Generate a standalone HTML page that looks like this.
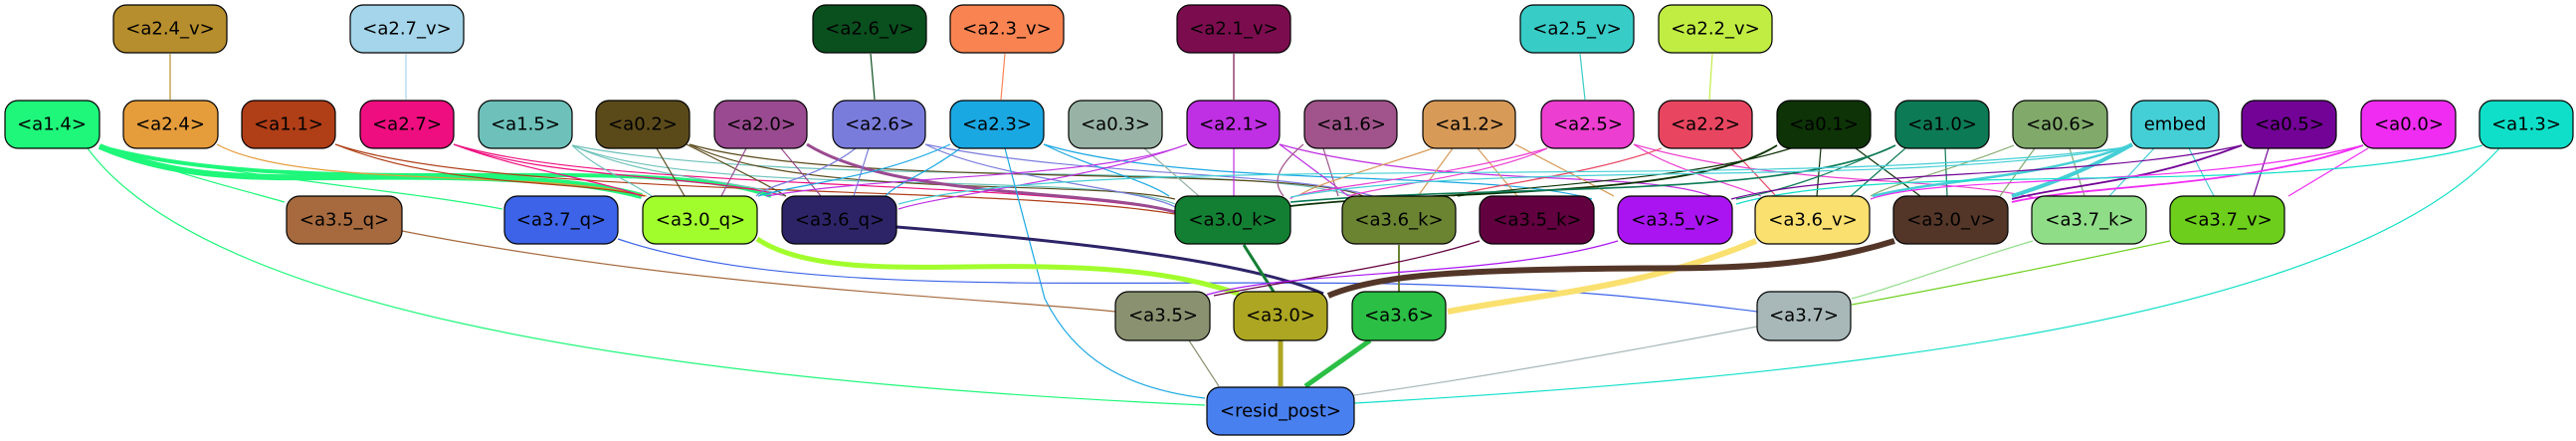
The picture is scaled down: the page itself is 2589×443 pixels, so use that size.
<!DOCTYPE html>
<html><head><meta charset="utf-8"><style>
html,body{margin:0;padding:0;background:#fff}
svg{display:block}
text{font-family:"DejaVu Sans","Liberation Sans",sans-serif;font-size:18px;text-anchor:middle;dominant-baseline:central;fill:#000}
.n{stroke:#000;stroke-width:1.2}
path{fill:none}
marker path{stroke:none}
path[stroke="#b78e2d"]{marker-end:url(#kb78e2d)}
path[stroke="#a4d5ea"]{marker-end:url(#ka4d5ea)}
path[stroke="#0a4f1e"]{marker-end:url(#k0a4f1e)}
path[stroke="#f98452"]{marker-end:url(#kf98452)}
path[stroke="#7b0d4f"]{marker-end:url(#k7b0d4f)}
path[stroke="#38ccc7"]{marker-end:url(#k38ccc7)}
path[stroke="#c1ed43"]{marker-end:url(#kc1ed43)}
path[stroke="#1ef77a"]{marker-end:url(#k1ef77a)}
path[stroke="#e59c3a"]{marker-end:url(#ke59c3a)}
path[stroke="#b03e17"]{marker-end:url(#kb03e17)}
path[stroke="#ef0e7f"]{marker-end:url(#kef0e7f)}
path[stroke="#6dc1ba"]{marker-end:url(#k6dc1ba)}
path[stroke="#5a4a1a"]{marker-end:url(#k5a4a1a)}
path[stroke="#9a4a90"]{marker-end:url(#k9a4a90)}
path[stroke="#7a7cdc"]{marker-end:url(#k7a7cdc)}
path[stroke="#1aa8e3"]{marker-end:url(#k1aa8e3)}
path[stroke="#98b3a5"]{marker-end:url(#k98b3a5)}
path[stroke="#bf2fe3"]{marker-end:url(#kbf2fe3)}
path[stroke="#a0548b"]{marker-end:url(#ka0548b)}
path[stroke="#d79a57"]{marker-end:url(#kd79a57)}
path[stroke="#ec3ed0"]{marker-end:url(#kec3ed0)}
path[stroke="#e84560"]{marker-end:url(#ke84560)}
path[stroke="#0d3306"]{marker-end:url(#k0d3306)}
path[stroke="#0c7a55"]{marker-end:url(#k0c7a55)}
path[stroke="#80a96a"]{marker-end:url(#k80a96a)}
path[stroke="#44cfd6"]{marker-end:url(#k44cfd6)}
path[stroke="#720396"]{marker-end:url(#k720396)}
path[stroke="#f02cf3"]{marker-end:url(#kf02cf3)}
path[stroke="#0fdfc8"]{marker-end:url(#k0fdfc8)}
path[stroke="#a66a3e"]{marker-end:url(#ka66a3e)}
path[stroke="#3c63e8"]{marker-end:url(#k3c63e8)}
path[stroke="#a2fd2d"]{marker-end:url(#ka2fd2d)}
path[stroke="#2d2468"]{marker-end:url(#k2d2468)}
path[stroke="#137f33"]{marker-end:url(#k137f33)}
path[stroke="#6a8432"]{marker-end:url(#k6a8432)}
path[stroke="#620040"]{marker-end:url(#k620040)}
path[stroke="#aa14f1"]{marker-end:url(#kaa14f1)}
path[stroke="#fae06f"]{marker-end:url(#kfae06f)}
path[stroke="#533628"]{marker-end:url(#k533628)}
path[stroke="#90dd87"]{marker-end:url(#k90dd87)}
path[stroke="#6dcf1c"]{marker-end:url(#k6dcf1c)}
path[stroke="#8a9170"]{marker-end:url(#k8a9170)}
path[stroke="#aca622"]{marker-end:url(#kaca622)}
path[stroke="#2bbf45"]{marker-end:url(#k2bbf45)}
path[stroke="#a8b8b8"]{marker-end:url(#ka8b8b8)}
</style></head><body>
<svg width="2589" height="443" viewBox="0 0 2589 443" xmlns="http://www.w3.org/2000/svg">
<defs>
<marker id="kb78e2d" viewBox="0 0 10 10" refX="9" refY="5" markerWidth="12" markerHeight="12" markerUnits="userSpaceOnUse" orient="auto"><path d="M0,0L10,5L0,10z" fill="#b78e2d"/></marker>
<marker id="ka4d5ea" viewBox="0 0 10 10" refX="9" refY="5" markerWidth="12" markerHeight="12" markerUnits="userSpaceOnUse" orient="auto"><path d="M0,0L10,5L0,10z" fill="#a4d5ea"/></marker>
<marker id="k0a4f1e" viewBox="0 0 10 10" refX="9" refY="5" markerWidth="12" markerHeight="12" markerUnits="userSpaceOnUse" orient="auto"><path d="M0,0L10,5L0,10z" fill="#0a4f1e"/></marker>
<marker id="kf98452" viewBox="0 0 10 10" refX="9" refY="5" markerWidth="12" markerHeight="12" markerUnits="userSpaceOnUse" orient="auto"><path d="M0,0L10,5L0,10z" fill="#f98452"/></marker>
<marker id="k7b0d4f" viewBox="0 0 10 10" refX="9" refY="5" markerWidth="12" markerHeight="12" markerUnits="userSpaceOnUse" orient="auto"><path d="M0,0L10,5L0,10z" fill="#7b0d4f"/></marker>
<marker id="k38ccc7" viewBox="0 0 10 10" refX="9" refY="5" markerWidth="12" markerHeight="12" markerUnits="userSpaceOnUse" orient="auto"><path d="M0,0L10,5L0,10z" fill="#38ccc7"/></marker>
<marker id="kc1ed43" viewBox="0 0 10 10" refX="9" refY="5" markerWidth="12" markerHeight="12" markerUnits="userSpaceOnUse" orient="auto"><path d="M0,0L10,5L0,10z" fill="#c1ed43"/></marker>
<marker id="k1ef77a" viewBox="0 0 10 10" refX="9" refY="5" markerWidth="13" markerHeight="13" markerUnits="userSpaceOnUse" orient="auto"><path d="M0,0L10,5L0,10z" fill="#1ef77a"/></marker>
<marker id="ke59c3a" viewBox="0 0 10 10" refX="9" refY="5" markerWidth="12" markerHeight="12" markerUnits="userSpaceOnUse" orient="auto"><path d="M0,0L10,5L0,10z" fill="#e59c3a"/></marker>
<marker id="kb03e17" viewBox="0 0 10 10" refX="9" refY="5" markerWidth="12" markerHeight="12" markerUnits="userSpaceOnUse" orient="auto"><path d="M0,0L10,5L0,10z" fill="#b03e17"/></marker>
<marker id="kef0e7f" viewBox="0 0 10 10" refX="9" refY="5" markerWidth="12" markerHeight="12" markerUnits="userSpaceOnUse" orient="auto"><path d="M0,0L10,5L0,10z" fill="#ef0e7f"/></marker>
<marker id="k6dc1ba" viewBox="0 0 10 10" refX="9" refY="5" markerWidth="12" markerHeight="12" markerUnits="userSpaceOnUse" orient="auto"><path d="M0,0L10,5L0,10z" fill="#6dc1ba"/></marker>
<marker id="k5a4a1a" viewBox="0 0 10 10" refX="9" refY="5" markerWidth="12" markerHeight="12" markerUnits="userSpaceOnUse" orient="auto"><path d="M0,0L10,5L0,10z" fill="#5a4a1a"/></marker>
<marker id="k9a4a90" viewBox="0 0 10 10" refX="9" refY="5" markerWidth="12" markerHeight="12" markerUnits="userSpaceOnUse" orient="auto"><path d="M0,0L10,5L0,10z" fill="#9a4a90"/></marker>
<marker id="k7a7cdc" viewBox="0 0 10 10" refX="9" refY="5" markerWidth="12" markerHeight="12" markerUnits="userSpaceOnUse" orient="auto"><path d="M0,0L10,5L0,10z" fill="#7a7cdc"/></marker>
<marker id="k1aa8e3" viewBox="0 0 10 10" refX="9" refY="5" markerWidth="12" markerHeight="12" markerUnits="userSpaceOnUse" orient="auto"><path d="M0,0L10,5L0,10z" fill="#1aa8e3"/></marker>
<marker id="k98b3a5" viewBox="0 0 10 10" refX="9" refY="5" markerWidth="12" markerHeight="12" markerUnits="userSpaceOnUse" orient="auto"><path d="M0,0L10,5L0,10z" fill="#98b3a5"/></marker>
<marker id="kbf2fe3" viewBox="0 0 10 10" refX="9" refY="5" markerWidth="12" markerHeight="12" markerUnits="userSpaceOnUse" orient="auto"><path d="M0,0L10,5L0,10z" fill="#bf2fe3"/></marker>
<marker id="ka0548b" viewBox="0 0 10 10" refX="9" refY="5" markerWidth="12" markerHeight="12" markerUnits="userSpaceOnUse" orient="auto"><path d="M0,0L10,5L0,10z" fill="#a0548b"/></marker>
<marker id="kd79a57" viewBox="0 0 10 10" refX="9" refY="5" markerWidth="12" markerHeight="12" markerUnits="userSpaceOnUse" orient="auto"><path d="M0,0L10,5L0,10z" fill="#d79a57"/></marker>
<marker id="kec3ed0" viewBox="0 0 10 10" refX="9" refY="5" markerWidth="12" markerHeight="12" markerUnits="userSpaceOnUse" orient="auto"><path d="M0,0L10,5L0,10z" fill="#ec3ed0"/></marker>
<marker id="ke84560" viewBox="0 0 10 10" refX="9" refY="5" markerWidth="12" markerHeight="12" markerUnits="userSpaceOnUse" orient="auto"><path d="M0,0L10,5L0,10z" fill="#e84560"/></marker>
<marker id="k0d3306" viewBox="0 0 10 10" refX="9" refY="5" markerWidth="12" markerHeight="12" markerUnits="userSpaceOnUse" orient="auto"><path d="M0,0L10,5L0,10z" fill="#0d3306"/></marker>
<marker id="k0c7a55" viewBox="0 0 10 10" refX="9" refY="5" markerWidth="12" markerHeight="12" markerUnits="userSpaceOnUse" orient="auto"><path d="M0,0L10,5L0,10z" fill="#0c7a55"/></marker>
<marker id="k80a96a" viewBox="0 0 10 10" refX="9" refY="5" markerWidth="12" markerHeight="12" markerUnits="userSpaceOnUse" orient="auto"><path d="M0,0L10,5L0,10z" fill="#80a96a"/></marker>
<marker id="k44cfd6" viewBox="0 0 10 10" refX="9" refY="5" markerWidth="13" markerHeight="13" markerUnits="userSpaceOnUse" orient="auto"><path d="M0,0L10,5L0,10z" fill="#44cfd6"/></marker>
<marker id="k720396" viewBox="0 0 10 10" refX="9" refY="5" markerWidth="12" markerHeight="12" markerUnits="userSpaceOnUse" orient="auto"><path d="M0,0L10,5L0,10z" fill="#720396"/></marker>
<marker id="kf02cf3" viewBox="0 0 10 10" refX="9" refY="5" markerWidth="12" markerHeight="12" markerUnits="userSpaceOnUse" orient="auto"><path d="M0,0L10,5L0,10z" fill="#f02cf3"/></marker>
<marker id="k0fdfc8" viewBox="0 0 10 10" refX="9" refY="5" markerWidth="12" markerHeight="12" markerUnits="userSpaceOnUse" orient="auto"><path d="M0,0L10,5L0,10z" fill="#0fdfc8"/></marker>
<marker id="ka66a3e" viewBox="0 0 10 10" refX="9" refY="5" markerWidth="12" markerHeight="12" markerUnits="userSpaceOnUse" orient="auto"><path d="M0,0L10,5L0,10z" fill="#a66a3e"/></marker>
<marker id="k3c63e8" viewBox="0 0 10 10" refX="9" refY="5" markerWidth="12" markerHeight="12" markerUnits="userSpaceOnUse" orient="auto"><path d="M0,0L10,5L0,10z" fill="#3c63e8"/></marker>
<marker id="ka2fd2d" viewBox="0 0 10 10" refX="9" refY="5" markerWidth="14" markerHeight="14" markerUnits="userSpaceOnUse" orient="auto"><path d="M0,0L10,5L0,10z" fill="#a2fd2d"/></marker>
<marker id="k2d2468" viewBox="0 0 10 10" refX="9" refY="5" markerWidth="13" markerHeight="13" markerUnits="userSpaceOnUse" orient="auto"><path d="M0,0L10,5L0,10z" fill="#2d2468"/></marker>
<marker id="k137f33" viewBox="0 0 10 10" refX="9" refY="5" markerWidth="13" markerHeight="13" markerUnits="userSpaceOnUse" orient="auto"><path d="M0,0L10,5L0,10z" fill="#137f33"/></marker>
<marker id="k6a8432" viewBox="0 0 10 10" refX="9" refY="5" markerWidth="12" markerHeight="12" markerUnits="userSpaceOnUse" orient="auto"><path d="M0,0L10,5L0,10z" fill="#6a8432"/></marker>
<marker id="k620040" viewBox="0 0 10 10" refX="9" refY="5" markerWidth="12" markerHeight="12" markerUnits="userSpaceOnUse" orient="auto"><path d="M0,0L10,5L0,10z" fill="#620040"/></marker>
<marker id="kaa14f1" viewBox="0 0 10 10" refX="9" refY="5" markerWidth="12" markerHeight="12" markerUnits="userSpaceOnUse" orient="auto"><path d="M0,0L10,5L0,10z" fill="#aa14f1"/></marker>
<marker id="kfae06f" viewBox="0 0 10 10" refX="9" refY="5" markerWidth="16" markerHeight="16" markerUnits="userSpaceOnUse" orient="auto"><path d="M0,0L10,5L0,10z" fill="#fae06f"/></marker>
<marker id="k533628" viewBox="0 0 10 10" refX="9" refY="5" markerWidth="16" markerHeight="16" markerUnits="userSpaceOnUse" orient="auto"><path d="M0,0L10,5L0,10z" fill="#533628"/></marker>
<marker id="k90dd87" viewBox="0 0 10 10" refX="9" refY="5" markerWidth="12" markerHeight="12" markerUnits="userSpaceOnUse" orient="auto"><path d="M0,0L10,5L0,10z" fill="#90dd87"/></marker>
<marker id="k6dcf1c" viewBox="0 0 10 10" refX="9" refY="5" markerWidth="12" markerHeight="12" markerUnits="userSpaceOnUse" orient="auto"><path d="M0,0L10,5L0,10z" fill="#6dcf1c"/></marker>
<marker id="k8a9170" viewBox="0 0 10 10" refX="9" refY="5" markerWidth="12" markerHeight="12" markerUnits="userSpaceOnUse" orient="auto"><path d="M0,0L10,5L0,10z" fill="#8a9170"/></marker>
<marker id="kaca622" viewBox="0 0 10 10" refX="9" refY="5" markerWidth="15" markerHeight="15" markerUnits="userSpaceOnUse" orient="auto"><path d="M0,0L10,5L0,10z" fill="#aca622"/></marker>
<marker id="k2bbf45" viewBox="0 0 10 10" refX="9" refY="5" markerWidth="15" markerHeight="15" markerUnits="userSpaceOnUse" orient="auto"><path d="M0,0L10,5L0,10z" fill="#2bbf45"/></marker>
<marker id="ka8b8b8" viewBox="0 0 10 10" refX="9" refY="5" markerWidth="12" markerHeight="12" markerUnits="userSpaceOnUse" orient="auto"><path d="M0,0L10,5L0,10z" fill="#a8b8b8"/></marker>
</defs>
<g stroke-width="1.2">
<path stroke="#b78e2d" d="M171,54 L171,100"/>
<path stroke="#a4d5ea" d="M408,54 L408,100"/>
<path stroke="#0a4f1e" d="M875,54 L879,100"/>
<path stroke="#f98452" d="M1010,54 L1006,100"/>
<path stroke="#7b0d4f" d="M1240,54 L1240,100"/>
<path stroke="#38ccc7" d="M1588,54 L1593,100"/>
<path stroke="#c1ed43" d="M1721,54 L1718,100"/>
<path stroke="#1ef77a" stroke-width="6" d="M100,147 C200,190 300,175 450,178 C550,180 600,185 645,197"/>
<path stroke="#1ef77a" stroke-width="4" d="M100,147 C250,190 500,170 650,178 C720,182 750,188 775,197"/>
<path stroke="#1ef77a" d="M100,147 C180,175 240,190 286,203"/>
<path stroke="#1ef77a" d="M100,147 C250,180 400,190 505,210"/>
<path stroke="#1ef77a" d="M88,149 C200,300 600,380 1211,407"/>
<path stroke="#e59c3a" d="M218,145 C300,190 550,170 650,197"/>
<path stroke="#b03e17" d="M337,145 C450,190 580,180 648,197"/>
<path stroke="#b03e17" d="M337,145 C500,200 1000,185 1181,215"/>
<path stroke="#ef0e7f" d="M456,145 C520,170 600,180 645,197"/>
<path stroke="#ef0e7f" d="M456,145 C550,180 700,175 790,197"/>
<path stroke="#ef0e7f" d="M456,145 C600,190 1000,180 1181,212"/>
<path stroke="#6dc1ba" d="M575,146 C600,170 630,180 655,197"/>
<path stroke="#6dc1ba" d="M575,146 C650,180 740,180 790,197"/>
<path stroke="#6dc1ba" d="M575,146 C700,200 1100,170 1181,205"/>
<path stroke="#6dc1ba" d="M575,146 C800,190 1250,160 1360,197"/>
<path stroke="#5a4a1a" d="M660,149 L688,197"/>
<path stroke="#5a4a1a" d="M690,145 C740,170 770,185 790,197"/>
<path stroke="#5a4a1a" d="M693,145 C800,200 1100,180 1181,200"/>
<path stroke="#5a4a1a" d="M693,145 C850,190 1300,165 1370,197"/>
<path stroke="#9a4a90" d="M750,149 L725,197"/>
<path stroke="#9a4a90" d="M785,149 L825,197"/>
<path stroke="#9a4a90" stroke-width="3" d="M811,145 C900,200 1100,190 1181,213"/>
<path stroke="#7a7cdc" d="M860,149 C820,180 770,185 760,197"/>
<path stroke="#7a7cdc" d="M873,149 L858,197"/>
<path stroke="#7a7cdc" d="M930,145 C1000,180 1150,190 1181,208"/>
<path stroke="#7a7cdc" d="M930,145 C1100,180 1300,170 1390,200"/>
<path stroke="#1aa8e3" d="M955,145 C880,180 800,185 762,197"/>
<path stroke="#1aa8e3" d="M965,149 C930,175 900,185 890,197"/>
<path stroke="#1aa8e3" d="M1010,149 L1050,300 C1080,360 1130,390 1211,400"/>
<path stroke="#1aa8e3" d="M1049,145 C1100,170 1150,180 1175,197"/>
<path stroke="#1aa8e3" d="M1049,145 C1200,190 1500,170 1600,200"/>
<path stroke="#98b3a5" d="M1150,149 L1205,197"/>
<path stroke="#bf2fe3" d="M1240,149 L1240,197"/>
<path stroke="#bf2fe3" d="M1193,145 C1100,180 950,195 903,210"/>
<path stroke="#bf2fe3" d="M1193,145 C1100,180 900,175 770,197"/>
<path stroke="#bf2fe3" d="M1286,145 C1320,170 1340,185 1355,197"/>
<path stroke="#bf2fe3" d="M1286,145 C1450,190 1650,170 1720,197"/>
<path stroke="#a0548b" d="M1330,149 L1345,197"/>
<path stroke="#a0548b" d="M1310,145 C1280,170 1280,185 1290,197"/>
<path stroke="#d79a57" d="M1440,149 C1380,170 1320,185 1305,197"/>
<path stroke="#d79a57" d="M1460,149 L1425,197"/>
<path stroke="#d79a57" d="M1485,149 L1525,197"/>
<path stroke="#d79a57" d="M1523,145 C1570,170 1600,185 1622,197"/>
<path stroke="#ec3ed0" d="M1555,149 C1500,175 1400,185 1355,197"/>
<path stroke="#ec3ed0" d="M1555,149 C1450,180 1300,190 1297,200"/>
<path stroke="#ec3ed0" d="M1642,145 C1680,170 1740,185 1770,197"/>
<path stroke="#ec3ed0" d="M1642,145 C1800,190 1950,175 2050,200"/>
<path stroke="#e84560" d="M1670,149 C1600,175 1500,185 1460,197"/>
<path stroke="#e84560" d="M1740,149 L1785,197"/>
<path stroke="#0d3306" stroke-width="1.8" d="M1786,146 C1700,200 1450,190 1297,207"/>
<path stroke="#0d3306" d="M1800,149 C1700,180 1550,185 1465,197"/>
<path stroke="#0d3306" d="M1830,149 L1826,197"/>
<path stroke="#0d3306" d="M1865,149 L1930,197"/>
<path stroke="#0c7a55" stroke-width="1.6" d="M1905,146 C1800,200 1500,185 1297,203"/>
<path stroke="#0c7a55" d="M1915,149 L1860,197"/>
<path stroke="#0c7a55" d="M1955,149 L1957,197"/>
<path stroke="#0c7a55" d="M1905,146 C1850,170 1800,190 1745,200"/>
<path stroke="#80a96a" d="M2024,146 C1950,175 1900,185 1880,197"/>
<path stroke="#80a96a" d="M2045,149 L2010,197"/>
<path stroke="#80a96a" d="M2080,149 L2095,197"/>
<path stroke="#44cfd6" stroke-width="4" d="M2143,145 C2100,170 2060,185 2022,197"/>
<path stroke="#44cfd6" stroke-width="2.5" d="M2143,145 C2050,180 1950,180 1882,197"/>
<path stroke="#44cfd6" d="M2165,149 L2120,197"/>
<path stroke="#44cfd6" d="M2200,149 L2225,197"/>
<path stroke="#44cfd6" d="M2143,147 C1900,190 1500,160 1297,198"/>
<path stroke="#44cfd6" d="M2143,147 C1800,195 1100,150 903,205"/>
<path stroke="#720396" stroke-width="1.8" d="M2253,146 C2150,185 2080,185 2022,200"/>
<path stroke="#720396" d="M2280,149 L2265,197"/>
<path stroke="#720396" d="M2253,146 C2100,180 1850,170 1740,200"/>
<path stroke="#f02cf3" stroke-width="1.8" d="M2375,146 C2250,190 2100,185 2022,203"/>
<path stroke="#f02cf3" d="M2380,149 L2300,197"/>
<path stroke="#f02cf3" d="M2375,146 C2200,190 1950,175 1880,200"/>
<path stroke="#0fdfc8" d="M2495,146 C2300,200 1900,160 1745,205"/>
<path stroke="#0fdfc8" d="M2512,149 C2350,330 1800,380 1361,405"/>
<path stroke="#a66a3e" d="M404,232 C700,290 1000,300 1121,313"/>
<path stroke="#3c63e8" d="M621,240 C800,300 1100,280 1400,285 C1600,290 1700,305 1766,313"/>
<path stroke="#a2fd2d" stroke-width="5" d="M761,240 C820,280 950,265 1050,268 C1150,270 1200,280 1245,295"/>
<path stroke="#2d2468" stroke-width="3" d="M901,228 C1050,240 1250,260 1330,295"/>
<path stroke="#137f33" stroke-width="3" d="M1250,246 L1280,293"/>
<path stroke="#6a8432" stroke-width="2" d="M1406,246 L1406,293"/>
<path stroke="#620040" d="M1487,242 C1400,270 1300,280 1220,297"/>
<path stroke="#aa14f1" d="M1626,242 C1500,280 1300,270 1210,297"/>
<path stroke="#fae06f" stroke-width="6" d="M1765,242 C1650,290 1550,295 1455,313"/>
<path stroke="#533628" stroke-width="6" d="M1904,242 C1800,275 1700,268 1600,270 C1450,272 1380,278 1335,297"/>
<path stroke="#90dd87" d="M2043,242 C1950,270 1900,290 1861,300"/>
<path stroke="#6dcf1c" d="M2181,242 C2050,270 1950,290 1861,306"/>
<path stroke="#8a9170" d="M1195,342 L1225,388"/>
<path stroke="#aca622" stroke-width="5" d="M1287,342 L1287,388"/>
<path stroke="#2bbf45" stroke-width="5" d="M1377,342 L1312,388"/>
<path stroke="#a8b8b8" d="M1766,328 C1600,360 1450,385 1361,397"/>
</g>
<g class="n">
<rect x="114" y="5" width="114" height="48" rx="13" fill="#b78e2d"/>
<rect x="352" y="5" width="114" height="48" rx="13" fill="#a4d5ea"/>
<rect x="817" y="5" width="114" height="48" rx="13" fill="#0a4f1e"/>
<rect x="955" y="5" width="114" height="48" rx="13" fill="#f98452"/>
<rect x="1183" y="5" width="114" height="48" rx="13" fill="#7b0d4f"/>
<rect x="1528" y="5" width="114" height="48" rx="13" fill="#38ccc7"/>
<rect x="1667" y="5" width="114" height="48" rx="13" fill="#c1ed43"/>
<rect x="5" y="101" width="95" height="48" rx="13" fill="#1ef77a"/>
<rect x="124" y="101" width="95" height="48" rx="13" fill="#e59c3a"/>
<rect x="243" y="101" width="94" height="48" rx="13" fill="#b03e17"/>
<rect x="362" y="101" width="94" height="48" rx="13" fill="#ef0e7f"/>
<rect x="481" y="101" width="94" height="48" rx="13" fill="#6dc1ba"/>
<rect x="599" y="101" width="94" height="48" rx="13" fill="#5a4a1a"/>
<rect x="718" y="101" width="93" height="48" rx="13" fill="#9a4a90"/>
<rect x="837" y="101" width="93" height="48" rx="13" fill="#7a7cdc"/>
<rect x="955" y="101" width="94" height="48" rx="13" fill="#1aa8e3"/>
<rect x="1074" y="101" width="94" height="48" rx="13" fill="#98b3a5"/>
<rect x="1193" y="101" width="93" height="48" rx="13" fill="#bf2fe3"/>
<rect x="1311" y="101" width="93" height="48" rx="13" fill="#a0548b"/>
<rect x="1430" y="101" width="93" height="48" rx="13" fill="#d79a57"/>
<rect x="1549" y="101" width="93" height="48" rx="13" fill="#ec3ed0"/>
<rect x="1667" y="101" width="94" height="48" rx="13" fill="#e84560"/>
<rect x="1786" y="101" width="94" height="48" rx="13" fill="#0d3306"/>
<rect x="1905" y="101" width="94" height="48" rx="13" fill="#0c7a55"/>
<rect x="2023" y="101" width="95" height="48" rx="13" fill="#80a96a"/>
<rect x="2142" y="101" width="88" height="48" rx="13" fill="#44cfd6"/>
<rect x="2253" y="101" width="95" height="48" rx="13" fill="#720396"/>
<rect x="2373" y="101" width="95" height="48" rx="13" fill="#f02cf3"/>
<rect x="2492" y="101" width="94" height="48" rx="13" fill="#0fdfc8"/>
<rect x="288" y="197" width="116" height="48" rx="13" fill="#a66a3e"/>
<rect x="507" y="197" width="114" height="48" rx="13" fill="#3c63e8"/>
<rect x="646" y="197" width="115" height="48" rx="13" fill="#a2fd2d"/>
<rect x="786" y="197" width="115" height="48" rx="13" fill="#2d2468"/>
<rect x="1181" y="197" width="116" height="48" rx="13" fill="#137f33"/>
<rect x="1349" y="197" width="114" height="48" rx="13" fill="#6a8432"/>
<rect x="1487" y="197" width="115" height="48" rx="13" fill="#620040"/>
<rect x="1626" y="197" width="115" height="48" rx="13" fill="#aa14f1"/>
<rect x="1764" y="197" width="115" height="48" rx="13" fill="#fae06f"/>
<rect x="1903" y="197" width="115" height="48" rx="13" fill="#533628"/>
<rect x="2042" y="197" width="115" height="48" rx="13" fill="#90dd87"/>
<rect x="2181" y="197" width="115" height="48" rx="13" fill="#6dcf1c"/>
<rect x="1121" y="293" width="95" height="49" rx="13" fill="#8a9170"/>
<rect x="1240" y="293" width="94" height="49" rx="13" fill="#aca622"/>
<rect x="1359" y="293" width="94" height="49" rx="13" fill="#2bbf45"/>
<rect x="1766" y="293" width="94" height="49" rx="13" fill="#a8b8b8"/>
<rect x="1213" y="389" width="148" height="48" rx="13" fill="#4880ef"/>
</g>
<g>
<text x="171" y="29">&lt;a2.4_v&gt;</text>
<text x="409" y="29">&lt;a2.7_v&gt;</text>
<text x="874" y="29">&lt;a2.6_v&gt;</text>
<text x="1012" y="29">&lt;a2.3_v&gt;</text>
<text x="1240" y="29">&lt;a2.1_v&gt;</text>
<text x="1585" y="29">&lt;a2.5_v&gt;</text>
<text x="1724" y="29">&lt;a2.2_v&gt;</text>
<text x="52" y="125">&lt;a1.4&gt;</text>
<text x="171" y="125">&lt;a2.4&gt;</text>
<text x="290" y="125">&lt;a1.1&gt;</text>
<text x="409" y="125">&lt;a2.7&gt;</text>
<text x="528" y="125">&lt;a1.5&gt;</text>
<text x="646" y="125">&lt;a0.2&gt;</text>
<text x="765" y="125">&lt;a2.0&gt;</text>
<text x="884" y="125">&lt;a2.6&gt;</text>
<text x="1002" y="125">&lt;a2.3&gt;</text>
<text x="1121" y="125">&lt;a0.3&gt;</text>
<text x="1240" y="125">&lt;a2.1&gt;</text>
<text x="1358" y="125">&lt;a1.6&gt;</text>
<text x="1477" y="125">&lt;a1.2&gt;</text>
<text x="1596" y="125">&lt;a2.5&gt;</text>
<text x="1714" y="125">&lt;a2.2&gt;</text>
<text x="1833" y="125">&lt;a0.1&gt;</text>
<text x="1952" y="125">&lt;a1.0&gt;</text>
<text x="2071" y="125">&lt;a0.6&gt;</text>
<text x="2186" y="125">embed</text>
<text x="2301" y="125">&lt;a0.5&gt;</text>
<text x="2421" y="125">&lt;a0.0&gt;</text>
<text x="2539" y="125">&lt;a1.3&gt;</text>
<text x="346" y="221">&lt;a3.5_q&gt;</text>
<text x="564" y="221">&lt;a3.7_q&gt;</text>
<text x="704" y="221">&lt;a3.0_q&gt;</text>
<text x="844" y="221">&lt;a3.6_q&gt;</text>
<text x="1239" y="221">&lt;a3.0_k&gt;</text>
<text x="1406" y="221">&lt;a3.6_k&gt;</text>
<text x="1545" y="221">&lt;a3.5_k&gt;</text>
<text x="1684" y="221">&lt;a3.5_v&gt;</text>
<text x="1822" y="221">&lt;a3.6_v&gt;</text>
<text x="1961" y="221">&lt;a3.0_v&gt;</text>
<text x="2100" y="221">&lt;a3.7_k&gt;</text>
<text x="2239" y="221">&lt;a3.7_v&gt;</text>
<text x="1169" y="317">&lt;a3.5&gt;</text>
<text x="1287" y="317">&lt;a3.0&gt;</text>
<text x="1406" y="317">&lt;a3.6&gt;</text>
<text x="1813" y="317">&lt;a3.7&gt;</text>
<text x="1287" y="413">&lt;resid_post&gt;</text>
</g>
</svg>
</body></html>
